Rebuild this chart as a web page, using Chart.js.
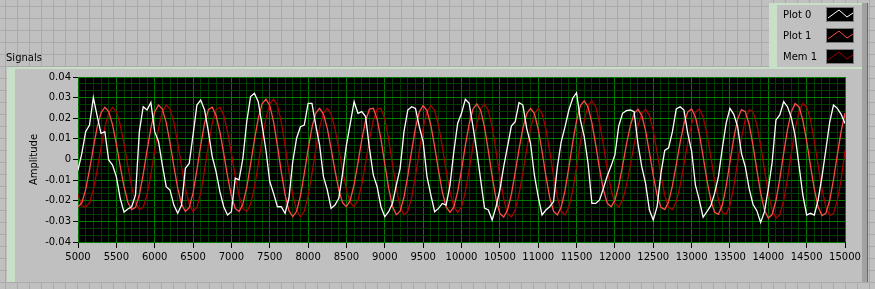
<!DOCTYPE html>
<html>
<head>
<meta charset="utf-8">
<script src="https://cdn.jsdelivr.net/npm/chart.js@4.4.1/dist/chart.umd.min.js"></script>
<style>
  html, body { margin: 0; padding: 0; background: #c0c0c0; }
  #wrap { position: relative; width: 875px; height: 289px; }
</style>
</head>
<body>
<div id="wrap"><canvas id="signalsChart" width="875" height="289"></canvas></div>
<script>
// sampling of the x axis: one point every 50 samples, 5000 .. 15000
const xStart = 5000;
const xStep = 50;
const xTickLabels = [5000, 5500, 6000, 6500, 7000, 7500, 8000, 8500, 9000, 9500, 10000,
  10500, 11000, 11500, 12000, 12500, 13000, 13500, 14000, 14500, 15000];
const yTickLabels = ['-0.04', '-0.03', '-0.02', '-0.01', '0', '0.01', '0.02', '0.03', '0.04'];

const seriesNames = ['Plot 0', 'Plot 1', 'Mem 1'];
const seriesColors = ['#ffffff', '#ff4a4a', '#a40000'];

// Plot 0 - noisy white signal
const plot0 = [
  -0.0051, 0.0030, 0.0135, 0.0167, 0.0300, 0.0210, 0.0127, 0.0135, -0.0002, -0.0027,
  -0.0083, -0.0188, -0.0255, -0.0240, -0.0229, -0.0172, 0.0135, 0.0256, 0.0240, 0.0277,
  0.0135, 0.0086, -0.0027, -0.0132, -0.0148, -0.0221, -0.0261, -0.0221, -0.0043, -0.0019,
  0.0119, 0.0264, 0.0288, 0.0240, 0.0135, 0.0014, -0.0059, -0.0156, -0.0229, -0.0269,
  -0.0253, -0.0091, -0.0099, 0.0006, 0.0183, 0.0305, 0.0321, 0.0280, 0.0167, 0.0046,
  -0.0107, -0.0164, -0.0229, -0.0229, -0.0261, -0.0188, -0.0011, 0.0103, 0.0159, 0.0167,
  0.0272, 0.0272, 0.0167, 0.0070, -0.0083, -0.0148, -0.0237, -0.0221, -0.0188, -0.0067,
  0.0070, 0.0175, 0.0280, 0.0224, 0.0232, 0.0208, 0.0054, -0.0075, -0.0132, -0.0229,
  -0.0277, -0.0253, -0.0213, -0.0124, -0.0043, 0.0135, 0.0240, 0.0256, 0.0248, 0.0159,
  0.0086, -0.0083, -0.0172, -0.0253, -0.0237, -0.0213, -0.0221, -0.0124, 0.0038, 0.0175,
  0.0224, 0.0292, 0.0272, 0.0159, 0.0038, -0.0099, -0.0235, -0.0245, -0.0293, -0.0229,
  -0.0148, -0.0035, 0.0062, 0.0162, 0.0183, 0.0276, 0.0264, 0.0151, 0.0078, -0.0075,
  -0.0180, -0.0269, -0.0245, -0.0229, -0.0204, -0.0035, 0.0086, 0.0159, 0.0240, 0.0297,
  0.0324, 0.0192, 0.0111, -0.0019, -0.0213, -0.0213, -0.0196, -0.0140, -0.0080, -0.0032,
  0.0022, 0.0162, 0.0224, 0.0237, 0.0240, 0.0232, 0.0078, -0.0035, -0.0116, -0.0245,
  -0.0293, -0.0229, -0.0067, 0.0044, 0.0057, 0.0135, 0.0245, 0.0256, 0.0240, 0.0127,
  0.0041, -0.0124, -0.0196, -0.0280, -0.0253, -0.0224, -0.0164, -0.0083, 0.0054, 0.0175,
  0.0248, 0.0219, 0.0159, 0.0030, -0.0035, -0.0140, -0.0217, -0.0248, -0.0305, -0.0253,
  -0.0143, -0.0014, 0.0192, 0.0216, 0.0280, 0.0256, 0.0203, 0.0116, -0.0027, -0.0172,
  -0.0269, -0.0261, -0.0269, -0.0196, -0.0083, 0.0046, 0.0180, 0.0264, 0.0248, 0.0219,
  0.0175
];

// Plot 1 - light red sine
const plot1 = [
  -0.0230, -0.0210, -0.0146, -0.0050, 0.0058, 0.0157, 0.0227, 0.0253, 0.0232, 0.0169,
  0.0075, -0.0032, -0.0132, -0.0207, -0.0243, -0.0232, -0.0171, -0.0072, 0.0043, 0.0152,
  0.0231, 0.0264, 0.0245, 0.0179, 0.0080, -0.0034, -0.0139, -0.0217, -0.0252, -0.0234,
  -0.0162, -0.0052, 0.0070, 0.0176, 0.0242, 0.0254, 0.0214, 0.0134, 0.0029, -0.0082,
  -0.0177, -0.0237, -0.0252, -0.0216, -0.0135, -0.0024, 0.0095, 0.0199, 0.0270, 0.0293,
  0.0262, 0.0182, 0.0067, -0.0059, -0.0171, -0.0249, -0.0277, -0.0251, -0.0176, -0.0069,
  0.0049, 0.0155, 0.0225, 0.0248, 0.0220, 0.0151, 0.0053, -0.0053, -0.0147, -0.0210,
  -0.0229, -0.0197, -0.0121, -0.0015, 0.0096, 0.0189, 0.0244, 0.0248, 0.0196, 0.0099,
  -0.0022, -0.0139, -0.0228, -0.0268, -0.0251, -0.0183, -0.0078, 0.0042, 0.0153, 0.0231,
  0.0261, 0.0237, 0.0166, 0.0062, -0.0053, -0.0157, -0.0230, -0.0256, -0.0230, -0.0156,
  -0.0050, 0.0068, 0.0173, 0.0245, 0.0269, 0.0238, 0.0157, 0.0042, -0.0083, -0.0191,
  -0.0262, -0.0279, -0.0245, -0.0169, -0.0064, 0.0050, 0.0151, 0.0222, 0.0248, 0.0223,
  0.0148, 0.0040, -0.0079, -0.0184, -0.0251, -0.0269, -0.0231, -0.0150, -0.0037, 0.0083,
  0.0189, 0.0261, 0.0284, 0.0255, 0.0178, 0.0071, -0.0045, -0.0146, -0.0212, -0.0229,
  -0.0197, -0.0127, -0.0031, 0.0072, 0.0162, 0.0223, 0.0243, 0.0214, 0.0140, 0.0035,
  -0.0077, -0.0173, -0.0232, -0.0243, -0.0205, -0.0127, -0.0025, 0.0082, 0.0173, 0.0231,
  0.0245, 0.0206, 0.0124, 0.0015, -0.0100, -0.0197, -0.0256, -0.0266, -0.0222, -0.0130,
  -0.0013, 0.0104, 0.0196, 0.0242, 0.0232, 0.0171, 0.0070, -0.0049, -0.0162, -0.0246,
  -0.0284, -0.0267, -0.0199, -0.0093, 0.0030, 0.0145, 0.0232, 0.0271, 0.0256, 0.0191,
  0.0089, -0.0030, -0.0144, -0.0230, -0.0272, -0.0261, -0.0199, -0.0097, 0.0022, 0.0138,
  0.0225
];

// Mem 1 - dark red, lags Plot 1 by about 100 samples
const mem1 = [
  -0.0170, -0.0225, -0.0230, -0.0210, -0.0146, -0.0050, 0.0058, 0.0157, 0.0227, 0.0253,
  0.0232, 0.0169, 0.0075, -0.0032, -0.0132, -0.0207, -0.0243, -0.0232, -0.0171, -0.0072,
  0.0043, 0.0152, 0.0231, 0.0264, 0.0245, 0.0179, 0.0080, -0.0034, -0.0139, -0.0217,
  -0.0252, -0.0234, -0.0162, -0.0052, 0.0070, 0.0176, 0.0242, 0.0254, 0.0214, 0.0134,
  0.0029, -0.0082, -0.0177, -0.0237, -0.0252, -0.0216, -0.0135, -0.0024, 0.0095, 0.0199,
  0.0270, 0.0293, 0.0262, 0.0182, 0.0067, -0.0059, -0.0171, -0.0249, -0.0277, -0.0251,
  -0.0176, -0.0069, 0.0049, 0.0155, 0.0225, 0.0248, 0.0220, 0.0151, 0.0053, -0.0053,
  -0.0147, -0.0210, -0.0229, -0.0197, -0.0121, -0.0015, 0.0096, 0.0189, 0.0244, 0.0248,
  0.0196, 0.0099, -0.0022, -0.0139, -0.0228, -0.0268, -0.0251, -0.0183, -0.0078, 0.0042,
  0.0153, 0.0231, 0.0261, 0.0237, 0.0166, 0.0062, -0.0053, -0.0157, -0.0230, -0.0256,
  -0.0230, -0.0156, -0.0050, 0.0068, 0.0173, 0.0245, 0.0269, 0.0238, 0.0157, 0.0042,
  -0.0083, -0.0191, -0.0262, -0.0279, -0.0245, -0.0169, -0.0064, 0.0050, 0.0151, 0.0222,
  0.0248, 0.0223, 0.0148, 0.0040, -0.0079, -0.0184, -0.0251, -0.0269, -0.0231, -0.0150,
  -0.0037, 0.0083, 0.0189, 0.0261, 0.0284, 0.0255, 0.0178, 0.0071, -0.0045, -0.0146,
  -0.0212, -0.0229, -0.0197, -0.0127, -0.0031, 0.0072, 0.0162, 0.0223, 0.0243, 0.0214,
  0.0140, 0.0035, -0.0077, -0.0173, -0.0232, -0.0243, -0.0205, -0.0127, -0.0025, 0.0082,
  0.0173, 0.0231, 0.0245, 0.0206, 0.0124, 0.0015, -0.0100, -0.0197, -0.0256, -0.0266,
  -0.0222, -0.0130, -0.0013, 0.0104, 0.0196, 0.0242, 0.0232, 0.0171, 0.0070, -0.0049,
  -0.0162, -0.0246, -0.0284, -0.0267, -0.0199, -0.0093, 0.0030, 0.0145, 0.0232, 0.0271,
  0.0256, 0.0191, 0.0089, -0.0030, -0.0144, -0.0230, -0.0272, -0.0261, -0.0199, -0.0097,
  0.0045
];

const FONT = { family: 'DejaVu Sans', size: 10 };
const MAJOR_GREEN = '#007c00';
const MINOR_GREEN = '#003e00';
const FRAME_GREEN = '#c8e0c8';

// minor grid positions (5 per major on x, 3 per major on y)
const xGridValues = [];
for (let v = 5000; v <= 15000; v += 100) xGridValues.push(v);
const yGridValues = [];
for (let k = 0; k <= 24; k++) yGridValues.push(-0.04 + k * 0.01 / 3);

const toPoints = (arr) => arr.map((v, i) => ({ x: xStart + i * xStep, y: v }));

// the raised LabVIEW style boxes (graph frame, legend box)
function drawBox(ctx, x, y, w, h) {
  ctx.fillStyle = '#c0c0c0';
  ctx.fillRect(x, y, w, h);
  ctx.fillStyle = FRAME_GREEN;
  ctx.fillRect(x, y, 8, h);
  ctx.fillRect(x, y, w - 6, 2);
  ctx.fillStyle = '#a2a2a2';
  ctx.fillRect(x + w - 6, y, 5, h);
  ctx.fillStyle = '#6a6a6a';
  ctx.fillRect(x + w - 1, y, 1, h);
}

const labviewPanel = {
  id: 'labviewPanel',
  beforeDraw(chart) {
    const ctx = chart.ctx;
    const w = chart.width, h = chart.height;
    ctx.save();
    ctx.fillStyle = '#c0c0c0';
    ctx.fillRect(0, 0, w, h);
    // front panel grid
    ctx.fillStyle = '#aaaaaa';
    for (let x = 5; x < w; x += 12) ctx.fillRect(x, 0, 1, h);
    for (let y = 6; y < h; y += 12) ctx.fillRect(0, y, w, 1);

    drawBox(ctx, 7, 67, 861, 215);
    drawBox(ctx, 769, 3, 99, 64);

    ctx.fillStyle = '#000';
    ctx.font = FONT.size + 'px "' + FONT.family + '"';
    ctx.textBaseline = 'middle';
    ctx.textAlign = 'left';
    ctx.fillText('Signals', 6, 58);

    const a = chart.chartArea;
    ctx.fillStyle = '#000';
    ctx.fillRect(a.left, a.top, a.right - a.left, a.bottom - a.top);
    ctx.restore();
  },
  afterDraw(chart) {
    const ctx = chart.ctx;
    ctx.save();
    ctx.font = FONT.size + 'px "' + FONT.family + '"';
    ctx.textBaseline = 'middle';
    ctx.textAlign = 'left';
    chart.data.datasets.forEach((ds, i) => {
      const top = 7 + i * 21;
      ctx.fillStyle = '#000';
      ctx.fillText(ds.label, 783, top + 8);
      // swatch
      ctx.fillStyle = '#000';
      ctx.fillRect(826, top, 28, 15);
      ctx.strokeStyle = '#7a7a7a';
      ctx.lineWidth = 1;
      ctx.strokeRect(826.5, top + 0.5, 27, 14);
      ctx.strokeStyle = ds.borderColor;
      ctx.beginPath();
      ctx.moveTo(828, top + 11);
      ctx.lineTo(839, top + 3);
      ctx.lineTo(847, top + 10);
      ctx.lineTo(853, top + 6);
      ctx.stroke();
    });
    ctx.restore();
  }
};

const datasets = [plot0, plot1, mem1].map((arr, i) => ({
  label: seriesNames[i],
  data: toPoints(arr),
  borderColor: seriesColors[i],
  borderWidth: 1.3,
  pointRadius: 0,
  fill: false,
  tension: 0
}));

new Chart(document.getElementById('signalsChart'), {
  type: 'line',
  data: { datasets },
  plugins: [labviewPanel],
  options: {
    responsive: false,
    animation: false,
    events: [],
    layout: { autoPadding: false, padding: { left: 0, top: 77, right: 30, bottom: 0 } },
    plugins: { legend: { display: false }, tooltip: { enabled: false } },
    scales: {
      x: {
        type: 'linear',
        min: 5000,
        max: 15000,
        afterBuildTicks: (s) => { s.ticks = xGridValues.map(v => ({ value: v })); },
        afterFit: (s) => { s.height = 47; },
        border: { display: false },
        grid: {
          color: (c) => (xTickLabels.includes(c.tick.value) ? MAJOR_GREEN : MINOR_GREEN),
          tickColor: (c) => (xTickLabels.includes(c.tick.value) ? '#000' : 'rgba(0,0,0,0)'),
          tickLength: 6,
          lineWidth: 1
        },
        ticks: {
          autoSkip: false,
          maxRotation: 0,
          minRotation: 0,
          padding: 3,
          color: '#000',
          font: FONT,
          callback: (v) => (xTickLabels.includes(v) ? String(v) : '')
        }
      },
      y: {
        min: -0.04,
        max: 0.04,
        afterBuildTicks: (s) => { s.ticks = yGridValues.map(v => ({ value: v })); },
        afterFit: (s) => { s.width = 78; },
        border: { display: false },
        title: {
          display: true,
          text: 'Amplitude',
          color: '#000',
          font: FONT,
          padding: { top: 28, bottom: 0 }
        },
        grid: {
          color: (c) => (c.index % 3 === 0 ? MAJOR_GREEN : MINOR_GREEN),
          tickColor: (c) => (c.index % 3 === 0 ? '#000' : 'rgba(0,0,0,0)'),
          tickLength: 5,
          lineWidth: 1
        },
        ticks: {
          autoSkip: false,
          padding: 2,
          color: '#000',
          font: FONT,
          callback: (v, i) => (i % 3 === 0 ? yTickLabels[i / 3] : '')
        }
      }
    }
  }
});
</script>
</body>
</html>
